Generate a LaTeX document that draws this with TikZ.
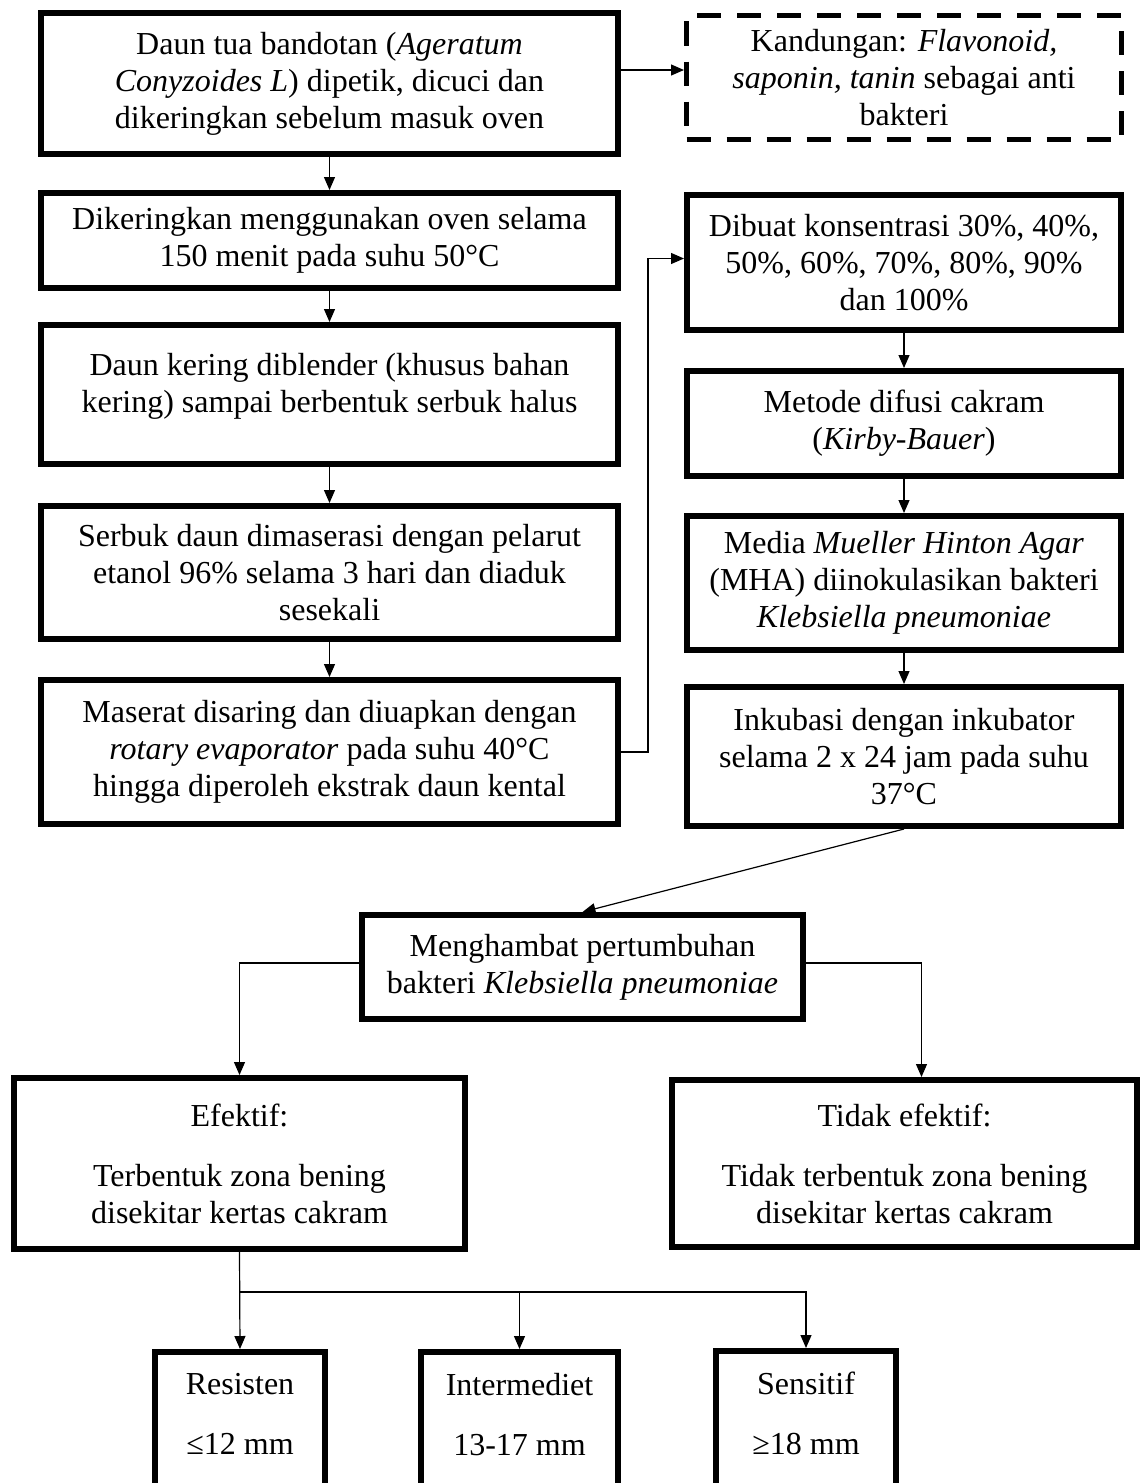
\documentclass[tikz,border=0pt]{standalone}
\usepackage{fontspec}
\setmainfont{Liberation Serif}
\usetikzlibrary{arrows.meta}

\begin{document}
\begin{tikzpicture}[x=0.5pt, y=-0.5pt,
	stepblock/.style={draw, line width=2.8pt, minimum width=288.7pt, align=center, inner sep=2pt, font=\fontsize{16pt}{18.5pt}\selectfont},
	noteblock/.style={draw, line width=2.5pt, dash pattern=on 12pt off 8pt, align=center, inner sep=2pt, font=\fontsize{16pt}{18.5pt}\selectfont},
	flow/.style={-{Triangle[length=6.5pt,width=5.5pt]}, line width=0.6pt}]

	\useasboundingbox (0,0) rectangle (1146,1483);

	% Preparation of leaves
	\node[stepblock, minimum height=70.7pt] (daun) at (329.5,83.5) {Daun tua bandotan (\textit{Ageratum}\\ \textit{Conyzoides L}) dipetik, dicuci dan\\ dikeringkan sebelum masuk oven};
	\node[noteblock, minimum width=217.5pt, minimum height=62pt] (kandungan) at (904,77.5) {Kandungan: \textit{Flavonoid,}\\ \textit{saponin, tanin} sebagai anti\\ bakteri};
	\node[stepblock, minimum height=47.7pt] (oven) at (329.5,240.5) {Dikeringkan menggunakan oven selama\\ 150 menit pada suhu 50°C};
	\node[stepblock, minimum height=69.7pt] (blender) at (329.5,394.5) {Daun kering diblender (khusus bahan\\ kering) sampai berbentuk serbuk halus\\[-7pt]\mbox{}};
	\node[stepblock, minimum height=66.7pt] (maserasi) at (329.5,572.5) {Serbuk daun dimaserasi dengan pelarut\\ etanol 96\% selama 3 hari dan diaduk\\ sesekali};
	\node[stepblock, minimum height=72.2pt] (saring) at (329.5,752) {Maserat disaring dan diuapkan dengan\\ \textit{rotary evaporator} pada suhu 40°C\\ hingga diperoleh ekstrak daun kental};

	% Test on bacteria
	\node[stepblock, minimum width=217.2pt, minimum height=67.7pt] (konsentrasi) at (904,262.5) {Dibuat konsentrasi 30\%, 40\%,\\ 50\%, 60\%, 70\%, 80\%, 90\%\\ dan 100\%};
	\node[stepblock, minimum width=217.2pt, minimum height=52.7pt] (difusi) at (904,423.5) {Metode difusi cakram\\ (\textit{Kirby-Bauer})};
	\node[stepblock, minimum width=217.2pt, minimum height=67.2pt] (media) at (904,583) {Media \textit{Mueller Hinton Agar}\\ (MHA) diinokulasikan bakteri\\ \textit{Klebsiella pneumoniae}};
	\node[stepblock, minimum width=217.2pt, minimum height=69.7pt] (inkubasi) at (904,756.5) {Inkubasi dengan inkubator\\ selama 2 x 24 jam pada suhu\\ 37°C};

	% Result
	\node[stepblock, minimum width=220.7pt, minimum height=52.2pt] (hambat) at (582.5,967) {Menghambat pertumbuhan\\ bakteri \textit{Klebsiella pneumoniae}};
	\node[stepblock, minimum width=225.7pt, minimum height=85.7pt] (efektif) at (239.5,1163.5) {Efektif:\\[11.5pt] Terbentuk zona bening\\ disekitar kertas cakram};
	\node[stepblock, minimum width=232.7pt, minimum height=83.7pt] (tidak) at (904.5,1163.5) {Tidak efektif:\\[11.5pt] Tidak terbentuk zona bening\\ disekitar kertas cakram};

	% Zone categories
	\node[stepblock, minimum width=85.2pt, minimum height=82.7pt] (resisten) at (240,1434.5) {Resisten\\[11.5pt] ≤12 mm\\[2pt]\mbox{}};
	\node[stepblock, minimum width=98.7pt, minimum height=82.7pt] (intermediet) at (519.5,1434.5) {Intermediet\\[11.5pt] 13-17 mm\\[2pt]\mbox{}};
	\node[stepblock, minimum width=90.2pt, minimum height=83.2pt] (sensitif) at (806,1434) {Sensitif\\[11.5pt] ≥18 mm\\[2pt]\mbox{}};

	% Arrows
	\draw[flow] ([yshift=6.75pt]daun.east) -- ([yshift=6.75pt]daun.east -| kandungan.west);
	\draw[flow] (daun) -- (oven);
	\draw[flow] (oven) -- (blender);
	\draw[flow] (blender) -- (maserasi);
	\draw[flow] (maserasi) -- (saring);
	\draw[flow] (saring.east) -- ++(27,0) |- ([yshift=2pt]konsentrasi.west);
	\draw[flow] (konsentrasi) -- (difusi);
	\draw[flow] (difusi) -- (media);
	\draw[flow] (media) -- (inkubasi);
	\draw[flow] (inkubasi.south) -- (hambat.north);
	\draw[flow] ([yshift=2pt]hambat.west) -| (efektif.north);
	\draw[flow] ([yshift=2pt]hambat.east) -| ([xshift=8.5pt]tidak.north);

	\coordinate (fork) at ([yshift=-20pt]efektif.south);
	\draw[flow] (efektif.south) -- (resisten.north);
	\draw[flow] (fork) -| (intermediet.north);
	\draw[flow] (fork) -| (sensitif.north);

\end{tikzpicture}
\end{document}
